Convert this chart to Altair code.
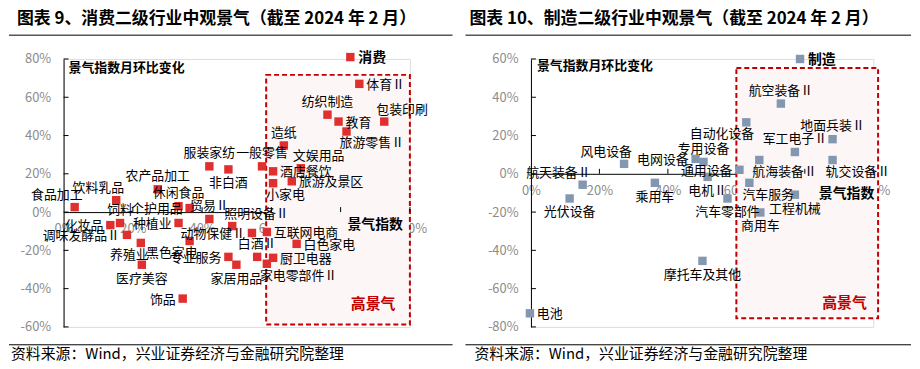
import altair as alt
import pandas as pd

FONT = "Noto Sans CJK SC"
GRAY = "#8c8c8c"

TITLE_L = "图表 9、消费二级行业中观景气（截至 2024 年 2 月）"
TITLE_R = "图表 10、制造二级行业中观景气（截至 2024 年 2 月）"
SOURCE = "资料来源：Wind，兴业证券经济与金融研究院整理"
Y_TITLE = "景气指数月环比变化"
X_TITLE = "景气指数"
HOT = "高景气"

X_TICKS = [0.0, 0.2, 0.4, 0.6, 0.8, 1.0]
Y_TICKS_L = [-0.6, -0.4, -0.2, 0.0, 0.2, 0.4, 0.6, 0.8]
Y_TICKS_R = [-0.8, -0.6, -0.4, -0.2, 0.0, 0.2, 0.4, 0.6]

# ---- consumption sub-industries ----
C_NAMES = ["体育Ⅱ", "纺织制造", "教育", "包装印刷", "旅游零售Ⅱ", "造纸", "文娱用品", "酒店餐饮",
           "旅游及景区", "小家电", "一般零售", "服装家纺", "非白酒", "农产品加工", "饮料乳品", "食品加工",
           "休闲食品", "个护用品", "饲料", "化妆品", "调味发酵品Ⅱ", "养殖业", "医疗美容", "种植业",
           "黑色家电", "饰品", "贸易Ⅱ", "照明设备Ⅱ", "动物保健Ⅱ", "专业服务", "家居用品", "白酒Ⅱ",
           "厨卫电器", "白色家电", "互联网电商", "家电零部件Ⅱ"]
C_X = [0.854, 0.762, 0.794, 0.926, 0.817, 0.636, 0.685, 0.605,
       0.659, 0.605, 0.573, 0.421, 0.476, 0.272, 0.152, 0.032,
       0.332, 0.364, 0.163, 0.135, 0.183, 0.223, 0.226, 0.332,
       0.364, 0.344, 0.421, 0.487, 0.544, 0.476, 0.499, 0.559,
       0.605, 0.673, 0.587, 0.587]
C_Y = [0.670, 0.509, 0.473, 0.473, 0.421, 0.348, 0.229, 0.213,
       0.161, 0.151, 0.239, 0.239, 0.223, 0.119, 0.062, 0.026,
       0.031, 0.021, -0.057, -0.068, -0.119, -0.161, -0.275, -0.057,
       -0.151, -0.452, -0.036, -0.073, -0.109, -0.234, -0.275, -0.234,
       -0.239, -0.166, -0.104, -0.270]
C_POS = ["right", "above", "right", "aboveright", "belowright", "above", "aboveright", "right",
         "right", "belowright", "above", "above", "below", "above", "aboveleft", "aboveleft",
         "above", "left", "above", "left", "left", "belowleft", "below", "left",
         "belowleft", "left", "above", "aboveright", "left", "left", "below", "above",
         "right", "right", "right", "belowright"]
C_SUM_NAME, C_SUM_X, C_SUM_Y = "消费", 0.828, 0.810
C_BOX = [0.585, 1.0, -0.587, 0.717]
C_HOT = [0.894, -0.483]

# ---- manufacturing sub-industries ----
M_NAMES = ["风电设备", "电网设备", "专用设备", "航天装备Ⅱ", "光伏设备", "乘用车", "航空装备Ⅱ",
           "地面兵装Ⅱ", "军工电子Ⅱ", "自动化设备", "通用设备", "航海装备Ⅱ", "轨交设备Ⅱ", "电机Ⅱ",
           "汽车服务", "汽车零部件", "工程机械", "商用车", "摩托车及其他", "电池"]
M_X = [0.272, 0.481, 0.504, 0.151, 0.113, 0.362, 0.730,
       0.881, 0.771, 0.629, 0.609, 0.667, 0.881, 0.516,
       0.638, 0.574, 0.771, 0.670, 0.501, -0.003]
M_Y = [0.052, 0.078, 0.062, -0.057, -0.129, -0.047, 0.367,
       0.181, 0.114, 0.269, 0.021, 0.072, 0.072, -0.016,
       -0.047, -0.129, -0.109, -0.202, -0.455, -0.729]
M_POS = ["aboveleft", "left", "above", "aboveleft", "below", "below", "above",
         "above", "above", "belowleft", "left", "belowright", "belowright", "below",
         "belowright", "below", "below", "below", "below", "right"]
M_SUM_NAME, M_SUM_X, M_SUM_Y = "制造", 0.786, 0.600
M_BOX = [0.600, 1.014, -0.755, 0.553]
M_HOT = [0.916, -0.673]

OFFS = {
    "above": ("center", 0, -13),
    "below": ("center", 0, 14),
    "left": ("right", -7, 1),
    "right": ("left", 7, 1),
    "aboveleft": ("right", 8, -12),
    "aboveright": ("left", -8, -12),
    "belowleft": ("right", 8, 12),
    "belowright": ("left", -7, 12),
}


def one(v):
    return pd.DataFrame({"t": [v]})


def panel(title, names, xs, ys, pos, sname, sx, sy, color, ydom, yticks, box, hot,
          W, H, rule_l, rule_r, title_x, src_x, ytitle_xy, xtitle_x, xtitle_dy):
    df = pd.DataFrame({"name": names, "x": xs, "y": ys, "pos": pos})
    xsc = alt.Scale(domain=[0, 1], nice=False, zero=False)
    ysc = alt.Scale(domain=ydom, nice=False, zero=False)
    zero_off = -H * (0 - ydom[0]) / (ydom[1] - ydom[0])
    xaxis = alt.Axis(values=X_TICKS, format=".0%", offset=zero_off, domainColor="#000",
                     ticks=False, tickSize=0, labelPadding=11, labelColor=GRAY,
                     labelFontSize=13, labelFont=FONT, grid=False, title=None,
                     labelFlush=False, labelOverlap=False,
                     labelExpr="replace(datum.label, '−', '-')")
    yaxis = alt.Axis(values=yticks, format=".0%", domainColor="#000", ticks=False,
                     tickSize=0, labelPadding=13, labelColor=GRAY, labelFontSize=13,
                     labelFont=FONT, grid=False, title=None, labelOverlap=False,
                     labelFlush=False,
                     labelExpr="replace(datum.label, '−', '-')")

    def X(f="x"):
        return alt.X(f"{f}:Q", scale=xsc, axis=xaxis)

    def Y(f="y"):
        return alt.Y(f"{f}:Q", scale=ysc, axis=yaxis)

    layers = []
    boxdf = pd.DataFrame({"x": [box[0]], "x2": [box[1]], "y": [box[2]], "y2": [box[3]]})
    layers.append(alt.Chart(boxdf).mark_rect(fill="#fdf6f6", stroke="#c00000",
                                             strokeDash=[5, 3], strokeWidth=2)
                  .encode(x=X(), x2="x2:Q", y=Y(), y2="y2:Q"))
    # inner ticks
    tlen_y = 5 / H * (ydom[1] - ydom[0])
    tick_x = pd.DataFrame({"x": X_TICKS[1:], "y": [0.0] * 5, "y2": [tlen_y] * 5})
    layers.append(alt.Chart(tick_x).mark_rule(color="#000")
                  .encode(x=X(), y=Y(), y2="y2:Q"))
    tick_y = pd.DataFrame({"y": yticks, "x": [0.0] * len(yticks),
                           "x2": [5 / W] * len(yticks)})
    layers.append(alt.Chart(tick_y).mark_rule(color="#000")
                  .encode(y=Y(), x=X(), x2="x2:Q"))
    # points
    layers.append(alt.Chart(df).mark_square(size=72, color=color, opacity=1)
                  .encode(x=X(), y=Y()))
    sdf = pd.DataFrame({"name": [sname], "x": [sx], "y": [sy]})
    layers.append(alt.Chart(sdf).mark_square(size=72, color=color, opacity=1)
                  .encode(x=X(), y=Y()))
    layers.append(alt.Chart(sdf).mark_text(align="left", baseline="middle", dx=8, dy=1,
                                           fontSize=14, fontWeight="bold", font=FONT,
                                           color="#000")
                  .encode(x=X(), y=Y(), text="name:N"))
    for p, (al, dx, dy) in OFFS.items():
        layers.append(alt.Chart(df).transform_filter(alt.datum.pos == p)
                      .mark_text(align=al, baseline="middle", dx=dx, dy=dy, fontSize=13,
                                 font=FONT, color="#000")
                      .encode(x=X(), y=Y(), text="name:N"))
    # annotations
    hotdf = pd.DataFrame({"t": [HOT], "x": [hot[0]], "y": [hot[1]]})
    layers.append(alt.Chart(hotdf).mark_text(align="center", baseline="middle",
                                             fontSize=15, fontWeight="bold",
                                             font=FONT, color="#c00000")
                  .encode(x=X(), y=Y(), text="t:N"))
    xtdf = pd.DataFrame({"t": [X_TITLE], "y": [0.0]})
    layers.append(alt.Chart(xtdf).mark_text(align="right", baseline="middle",
                                            dy=xtitle_dy, fontSize=14,
                                            fontWeight="bold", font=FONT,
                                            color="#000")
                  .encode(x=alt.value(xtitle_x), y=Y(), text="t:N"))
    layers.append(alt.Chart(one(Y_TITLE)).mark_text(align="left", baseline="middle",
                                                    fontSize=13, fontWeight="bold",
                                                    font=FONT, color="#000")
                  .encode(x=alt.value(ytitle_xy[0]), y=alt.value(ytitle_xy[1]), text="t:N"))
    # title, rules, source
    layers.append(alt.Chart(one(title)).mark_text(align="left", baseline="middle",
                                                  fontSize=17, fontWeight="bold",
                                                  font=FONT, color="#000")
                  .encode(x=alt.value(title_x), y=alt.value(-40), text="t:N"))
    layers.append(alt.Chart(one(0)).mark_rule(color="#000", strokeWidth=1)
                  .encode(x=alt.value(rule_l), x2=alt.value(rule_r), y=alt.value(-24)))
    layers.append(alt.Chart(one(0)).mark_rule(color="#000", strokeWidth=1)
                  .encode(x=alt.value(rule_l), x2=alt.value(rule_r), y=alt.value(288)))
    layers.append(alt.Chart(one(SOURCE)).mark_text(align="left", baseline="middle",
                                                   fontSize=15, font=FONT, color="#000")
                  .encode(x=alt.value(src_x), y=alt.value(297), text="t:N"))
    return alt.layer(*layers).properties(width=W, height=H)


left = panel(TITLE_L, C_NAMES, C_X, C_Y, C_POS, C_SUM_NAME, C_SUM_X, C_SUM_Y, "#e02f2f",
             [-0.6, 0.8], Y_TICKS_L, C_BOX, C_HOT, 349, 270, -55, 392, -47, -53,
             (5, 9), 342, 13)
right = panel(TITLE_R, M_NAMES, M_X, M_Y, M_POS, M_SUM_NAME, M_SUM_X, M_SUM_Y, "#8497b0",
              [-0.8, 0.6], Y_TICKS_R, M_BOX, M_HOT, 345, 270, -66, 383, -62, -57,
              (6, 7), 346, 20)

chart = (alt.hconcat(left, right, spacing=11)
         .properties(padding={"left": 0, "top": 0, "right": 0, "bottom": 0})
         .configure_view(stroke=None)
         .configure_axis(labelOverlap=False, labelFlush=False, labelBound=False)
         .configure(font=FONT))

chart.save("out.html", embed_options={"renderer": "svg", "actions": False})
